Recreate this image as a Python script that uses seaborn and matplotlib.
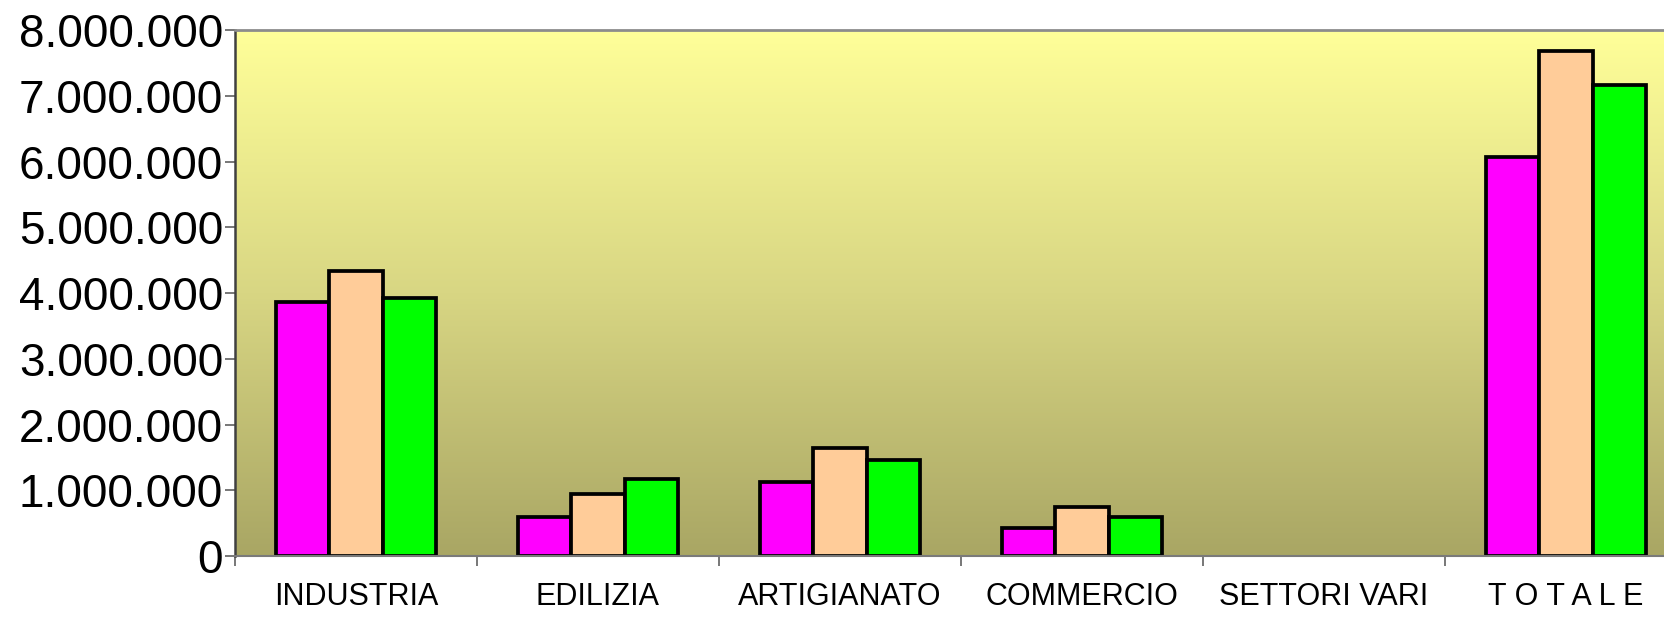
import matplotlib
matplotlib.use("Agg")
import matplotlib.pyplot as plt
import matplotlib.ticker as mticker
from matplotlib.colors import LinearSegmentedColormap
import seaborn as sns
import numpy as np
import pandas as pd


categories = ["INDUSTRIA", "EDILIZIA", "ARTIGIANATO", "COMMERCIO",
              "SETTORI VARI", "T O T A L E"]

serie_1 = [3870000, 600000, 1120000, 420000, 0, 6070000]
serie_2 = [4340000, 940000, 1650000, 750000, 0, 7680000]
serie_3 = [3920000, 1170000, 1460000, 600000, 0, 7160000]

series_names = ["Serie 1", "Serie 2", "Serie 3"]
bar_colors = ["#FF00FF", "#FFCC99", "#00FF00"]

y_ticks = [0, 1000000, 2000000, 3000000, 4000000,
           5000000, 6000000, 7000000, 8000000]


df = pd.DataFrame({
    "categoria": categories * 3,
    "valore": serie_1 + serie_2 + serie_3,
    "serie": [s for s in series_names for _ in categories],
})

sns.set_style("white")
plt.rcParams['font.family'] = ['Liberation Sans', 'DejaVu Sans']

fig = plt.figure(figsize=(16.64, 6.18), dpi=100)
ax = fig.add_axes([0.1412, 0.1003, 0.8726, 0.851])

# sfondo sfumato: giallo in alto, oliva in basso
grad_cmap = LinearSegmentedColormap.from_list(
    "sfondo", ["#A9A664", "#D8D683", "#FFFF99"]
)
grad = np.linspace(0, 1, 256).reshape(-1, 1)
ax.imshow(
    grad,
    cmap=grad_cmap,
    aspect="auto",
    origin="lower",
    extent=(-0.5, 5.5, 0, 8000000),
    zorder=0,
)

sns.barplot(
    data=df,
    x="categoria",
    y="valore",
    hue="serie",
    order=categories,
    hue_order=series_names,
    palette=bar_colors,
    width=0.66,
    edgecolor="black",
    linewidth=2.7,
    saturation=1,
    legend=False,
    ax=ax,
    zorder=2,
)

# niente bordo per le barre a zero (SETTORI VARI)
for bar in ax.patches:
    if bar.get_height() == 0:
        bar.set_linewidth(0)

ax.set_xlim(-0.5, 5.5)
ax.set_ylim(0, 8000000)

ax.set_yticks(y_ticks)
ax.yaxis.set_major_formatter(
    mticker.FuncFormatter(lambda v, p: f"{int(v):,}".replace(",", "."))
)
ax.tick_params(axis="y", labelsize=33, length=7.5, width=1.2,
               color="#606060", labelcolor="black", pad=1,
               direction="out", left=True)

ax.set_xticks(range(len(categories)))
ax.set_xticklabels(categories, fontsize=22)
ax.tick_params(axis="x", length=0, pad=19, labelcolor="black")
ax.set_xticks(np.arange(-0.5, 6.0, 1.0), minor=True)
ax.tick_params(axis="x", which="minor", length=7.5, width=1.2,
               color="#606060", direction="out", bottom=True)

ax.set_xlabel("")
ax.set_ylabel("")

for side in ["left", "top", "bottom", "right"]:
    ax.spines[side].set_visible(True)
ax.spines["left"].set_color("#404040")
ax.spines["left"].set_linewidth(1.8)
ax.spines["top"].set_color("#8C8C8C")
ax.spines["top"].set_linewidth(2)
ax.spines["bottom"].set_color("#7A7A7A")
ax.spines["bottom"].set_linewidth(1.5)

fig.savefig("out.png", dpi=100)
